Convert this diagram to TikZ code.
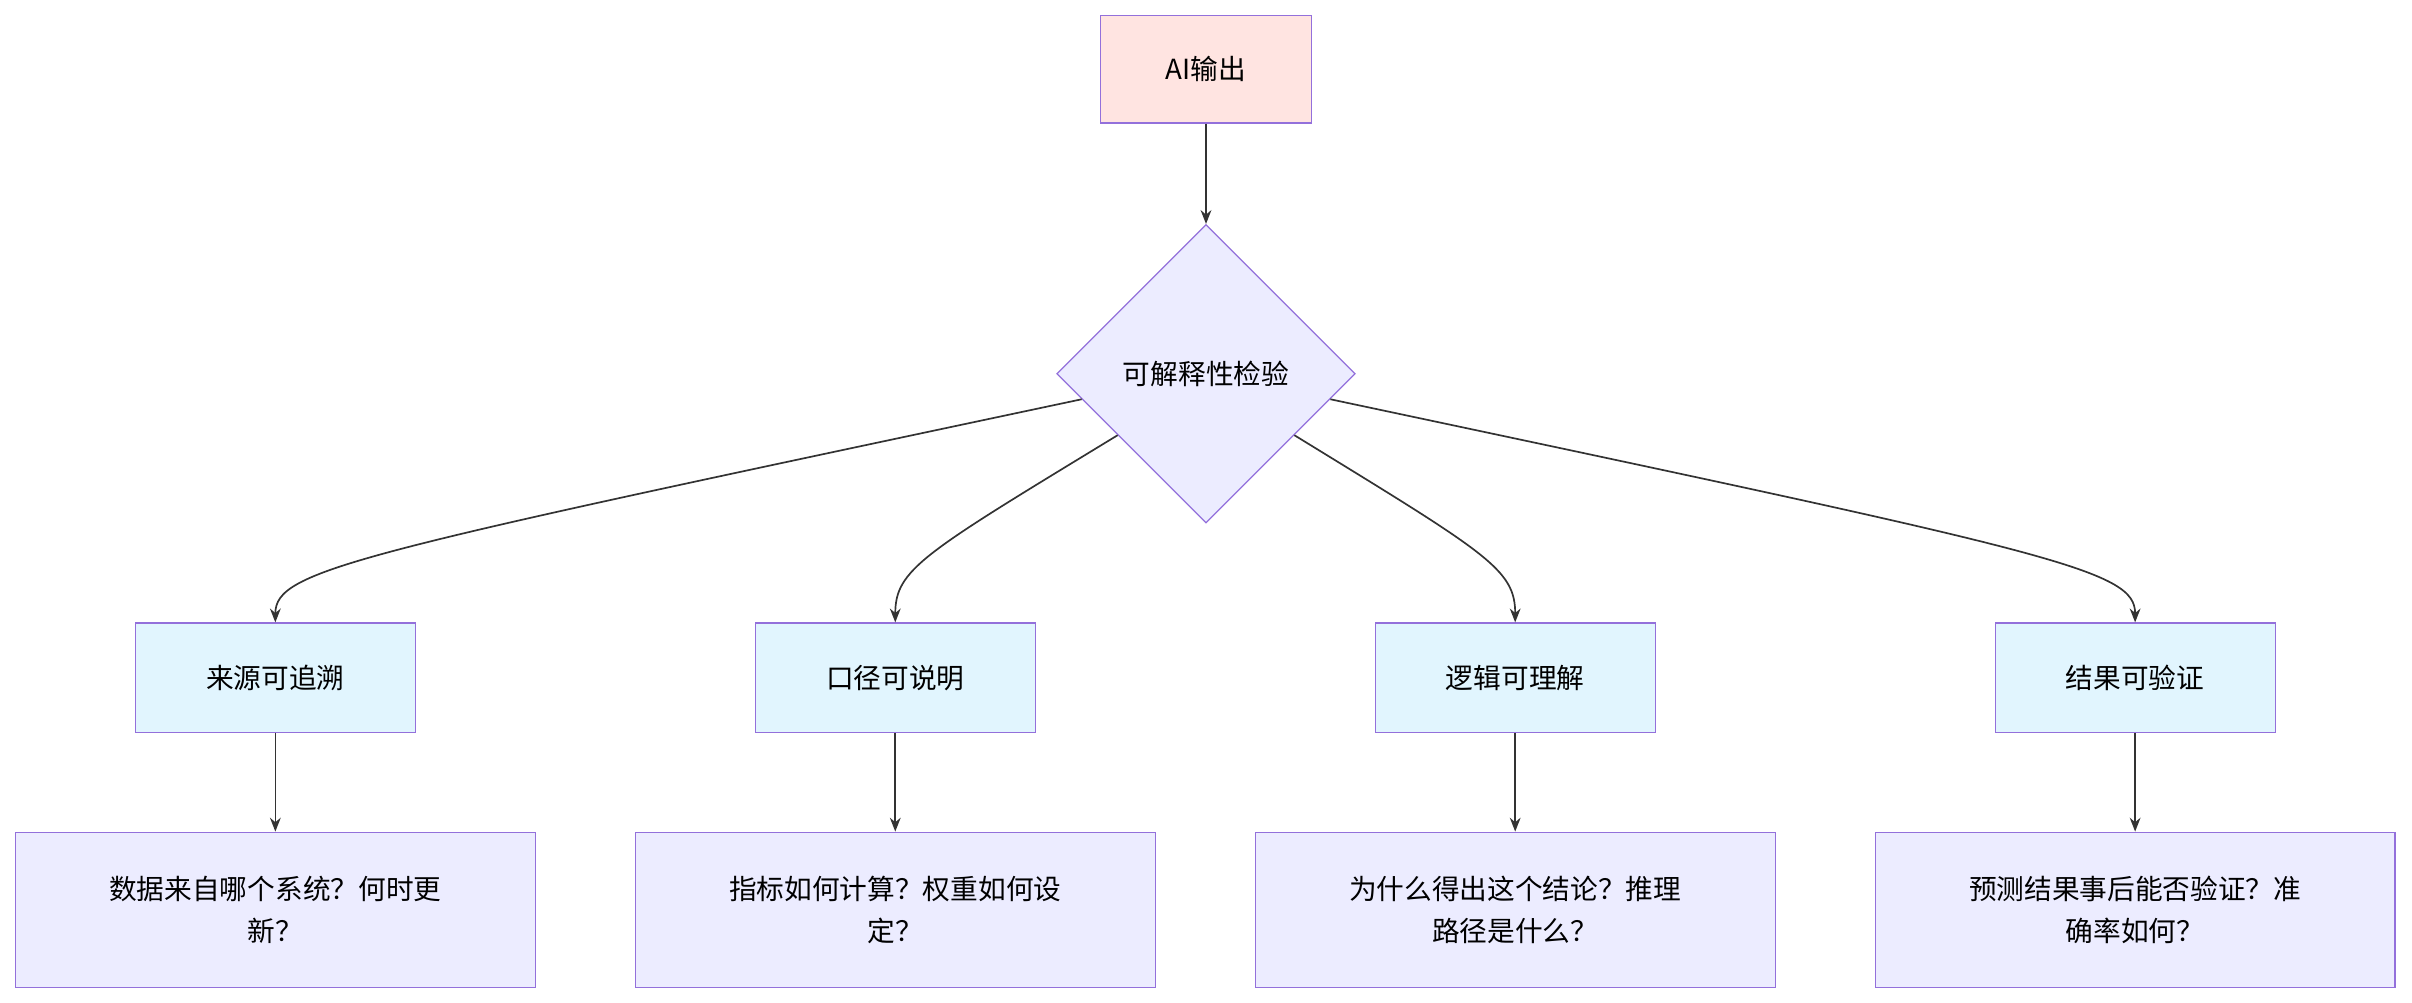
\documentclass[tikz,border=0pt]{standalone}
\usepackage{fontspec}
\setmainfont{Noto Sans CJK SC}
\usetikzlibrary{shapes.geometric,arrows.meta,calc}
\definecolor{bd}{HTML}{9370DB}
\definecolor{pk}{HTML}{FFE4E1}
\definecolor{lb}{HTML}{E1F5FE}
\definecolor{lv}{HTML}{ECECFF}
\definecolor{ar}{HTML}{333333}
\begin{document}
\begin{tikzpicture}[x=1pt,y=-1pt,
 box/.style={draw=bd,line width=0.8pt,font=\fontsize{18}{27}\selectfont,align=center,inner sep=0pt},
 l2/.style={box,fill=lb,minimum width=182pt,minimum height=71pt},
 l3/.style={box,fill=lv,minimum width=338pt,minimum height=101pt},
 arr/.style={draw=ar,line width=1.1pt,-{Stealth[length=9pt,width=7pt]}}]
\useasboundingbox (0,0) rectangle (1568,652);
\node[box,fill=pk,minimum width=137pt,minimum height=70pt] (ai) at (784,45) {AI输出};
\node[box,fill=lv,diamond,minimum width=194pt,minimum height=194pt] (d) at (784,243) {可解释性检验};
\foreach \n/\x/\t in {a/179/来源可追溯,b/582/口径可说明,c/985/逻辑可理解,e/1388/结果可验证}{
 \node[l2] (\n) at (\x,440.5) {\t};}
\node[l3] (a3) at (179,591.5) {数据来自哪个系统？何时更\\新？};
\node[l3] (b3) at (582,591.5) {指标如何计算？权重如何设\\定？};
\node[l3] (c3) at (985,591.5) {为什么得出这个结论？推理\\路径是什么？};
\node[l3] (e3) at (1388,591.5) {预测结果事后能否验证？准\\确率如何？};
\draw[arr] (ai) -- (d);
\coordinate (s1) at ($(d.west)!0.17!(d.south)$);
\coordinate (s2) at ($(d.west)!0.41!(d.south)$);
\coordinate (s3) at ($(d.east)!0.41!(d.south)$);
\coordinate (s4) at ($(d.east)!0.17!(d.south)$);
\draw[arr] (s1) .. controls (230,360) and (179,370) .. (a.north);
\draw[arr] (s2) .. controls (600,360) and (582,370) .. (b.north);
\draw[arr] (s3) .. controls (967,360) and (985,370) .. (c.north);
\draw[arr] (s4) .. controls (1338,360) and (1388,370) .. (e.north);
\foreach \n in {a,b,c,e}{\draw[arr] (\n) -- (\n3);}
\end{tikzpicture}
\end{document}
